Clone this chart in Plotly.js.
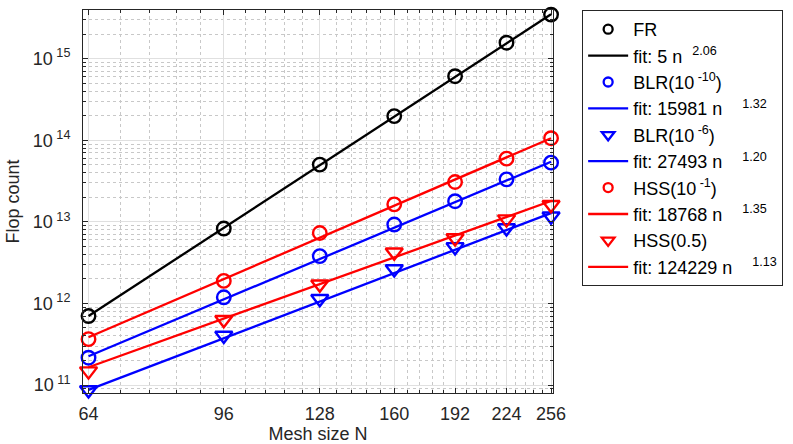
<!DOCTYPE html>
<html>
<head>
<meta charset="utf-8">
<script src="https://cdn.plot.ly/plotly-3.0.1.min.js"></script>
<style>html,body{margin:0;padding:0;background:#fff;} #chart{width:793px;height:444px;}</style>
</head>
<body>
<div id="chart"></div>
<script>
// Mesh sizes
const meshN = [64, 96, 128, 160, 192, 224, 256];
// Measured flop counts
const frFlops     = [7.0e11, 8.28e12, 5.03e13, 1.98e14, 6.1e14, 1.57e15, 3.47e15];
const blr10Flops  = [2.16e11, 1.19e12, 3.8e12, 9.27e12, 1.79e13, 3.32e13, 5.32e13];
const blr6Flops   = [8.7e10, 4.05e11, 1.14e12, 2.64e12, 4.93e12, 8.4e12, 1.17e13];
const hss1Flops   = [3.65e11, 1.89e12, 7.3e12, 1.64e13, 3.08e13, 5.95e13, 1.06e14];
const hss05Flops  = [1.48e11, 6.3e11, 1.72e12, 4.24e12, 6.34e12, 1.08e13, 1.62e13];
// Fit lines (end points)
const fitN        = [64, 256];
const fitFR       = [7.0e11, 3.5e15];
const fitBLR10    = [2.25e11, 5.45e13];
const fitBLR6     = [8.7e10, 1.28e13];
const fitHSS1     = [3.85e11, 1.06e14];
const fitHSS05    = [1.65e11, 1.8e13];
// Tick labels
const xTickVals = [64, 96, 128, 160, 192, 224, 256];
const xTickText = ["64", "96", "128", "160", "192", "224", "256"];
const yTickVals = [1e11, 1e12, 1e13, 1e14, 1e15];
const yTickText = ["10<sup> 11</sup>", "10<sup> 12</sup>", "10<sup> 13</sup>", "10<sup> 14</sup>", "10<sup> 15</sup>"];
// Legend names
const names = ["FR", "fit: 5 n &nbsp;<sup>2.06</sup>",
  "BLR(10<sup> -10</sup>)", "fit: 15981 n &nbsp; &nbsp;<sup>1.32</sup>",
  "BLR(10<sup> -6</sup>)", "fit: 27493 n &nbsp; &nbsp;<sup>1.20</sup>",
  "HSS(10<sup> -1</sup>)", "fit: 18768 n &nbsp; &nbsp;<sup>1.35</sup>",
  "HSS(0.5)", "fit: 124229 n &nbsp; &nbsp;<sup>1.13</sup>"];

// minor ticks
const xMinor = [];
for (let v = 64; v <= 256.01; v += 6.4) xMinor.push(+v.toFixed(2));
const yMinor = [];
for (let e = 10; e <= 15; e++) for (let m = 1; m <= 9; m++) yMinor.push(m * Math.pow(10, e));

const BLACK = "#000000", BLUE = "#0000ff", RED = "#ff0000";
// plotted markers (no legend entry) + a legend key with a smaller marker
function mk(x, y, color, symbol, name, size) {
  return [
    {x: x, y: y, type: "scatter", mode: "markers", name: name, cliponaxis: false,
      showlegend: false,
      marker: {symbol: symbol, size: size, color: color, line: {color: color, width: 2.4}}},
    {x: [null], y: [null], type: "scatter", mode: "markers", name: name, legendgroup: name,
      marker: {symbol: symbol, size: symbol.indexOf("triangle") === 0 ? 11 : 9, color: color,
        line: {color: color, width: 2.3}}}
  ];
}
function ln(x, y, color, name) {
  return [{x: x, y: y, type: "scatter", mode: "lines", name: name, legendgroup: name,
    line: {color: color, width: 2.3}}];
}
const data = [].concat(
  mk(meshN, frFlops, BLACK, "circle-open", names[0], 13.5),
  ln(fitN, fitFR, BLACK, names[1]),
  mk(meshN, blr10Flops, BLUE, "circle-open", names[2], 13.5),
  ln(fitN, fitBLR10, BLUE, names[3]),
  mk(meshN, blr6Flops, BLUE, "triangle-down-open", names[4], 15),
  ln(fitN, fitBLR6, BLUE, names[5]),
  mk(meshN, hss1Flops, RED, "circle-open", names[6], 13.5),
  ln(fitN, fitHSS1, RED, names[7]),
  mk(meshN, hss05Flops, RED, "triangle-down-open", names[8], 15),
  ln(fitN, fitHSS05, RED, names[9])
);
const FONT = "Liberation Sans, Arial, sans-serif";
const axisCommon = {
  showline: true, linecolor: "#262626", linewidth: 1, mirror: "ticks",
  ticks: "inside", ticklen: 5, tickcolor: "#262626", tickwidth: 1,
  showgrid: true, gridcolor: "#e0e0e0", gridwidth: 1, zeroline: false,
  tickfont: {family: FONT, size: 18, color: "#262626"},
  tickmode: "array"
};
const layout = {
  width: 793, height: 444,
  margin: {l: 83, r: 236, t: 10, b: 51},
  paper_bgcolor: "#fff", plot_bgcolor: "#fff",
  font: {family: FONT, color: "#262626"},
  showlegend: true,
  xaxis: Object.assign({}, axisCommon, {
    type: "log", range: [Math.log10(62.95), Math.log10(257.5)],
    tickvals: xTickVals, ticktext: xTickText, ticklabelstandoff: 4,
    minor: {tickmode: "array", tickvals: xMinor, ticks: "inside", ticklen: 3, tickcolor: "#262626",
      showgrid: true, gridcolor: "#c8c8c8", griddash: "dot", gridwidth: 1},
    title: {text: "Mesh size N", font: {family: FONT, size: 18, color: "#262626"}, standoff: 10}
  }),
  yaxis: Object.assign({}, axisCommon, {
    type: "log", range: [10.902, 15.597],
    tickvals: yTickVals, ticktext: yTickText, ticklabelstandoff: 8,
    minor: {tickmode: "array", tickvals: yMinor, ticks: "inside", ticklen: 3, tickcolor: "#262626",
      showgrid: true, gridcolor: "#c8c8c8", griddash: "dot", gridwidth: 1},
    title: {text: "Flop count", font: {family: FONT, size: 18, color: "#262626"}, standoff: 8}
  }),
  legend: {
    x: 1.062, xanchor: "left", y: 1.0, yanchor: "top",
    bgcolor: "#fff", bordercolor: "#262626", borderwidth: 1,
    font: {family: FONT, size: 18, color: "#000"},
    tracegroupgap: 2, itemwidth: 40,
    traceorder: "normal"
  }
};
Plotly.newPlot("chart", data, layout, {displayModeBar: false, staticPlot: true});
</script>
</body>
</html>
